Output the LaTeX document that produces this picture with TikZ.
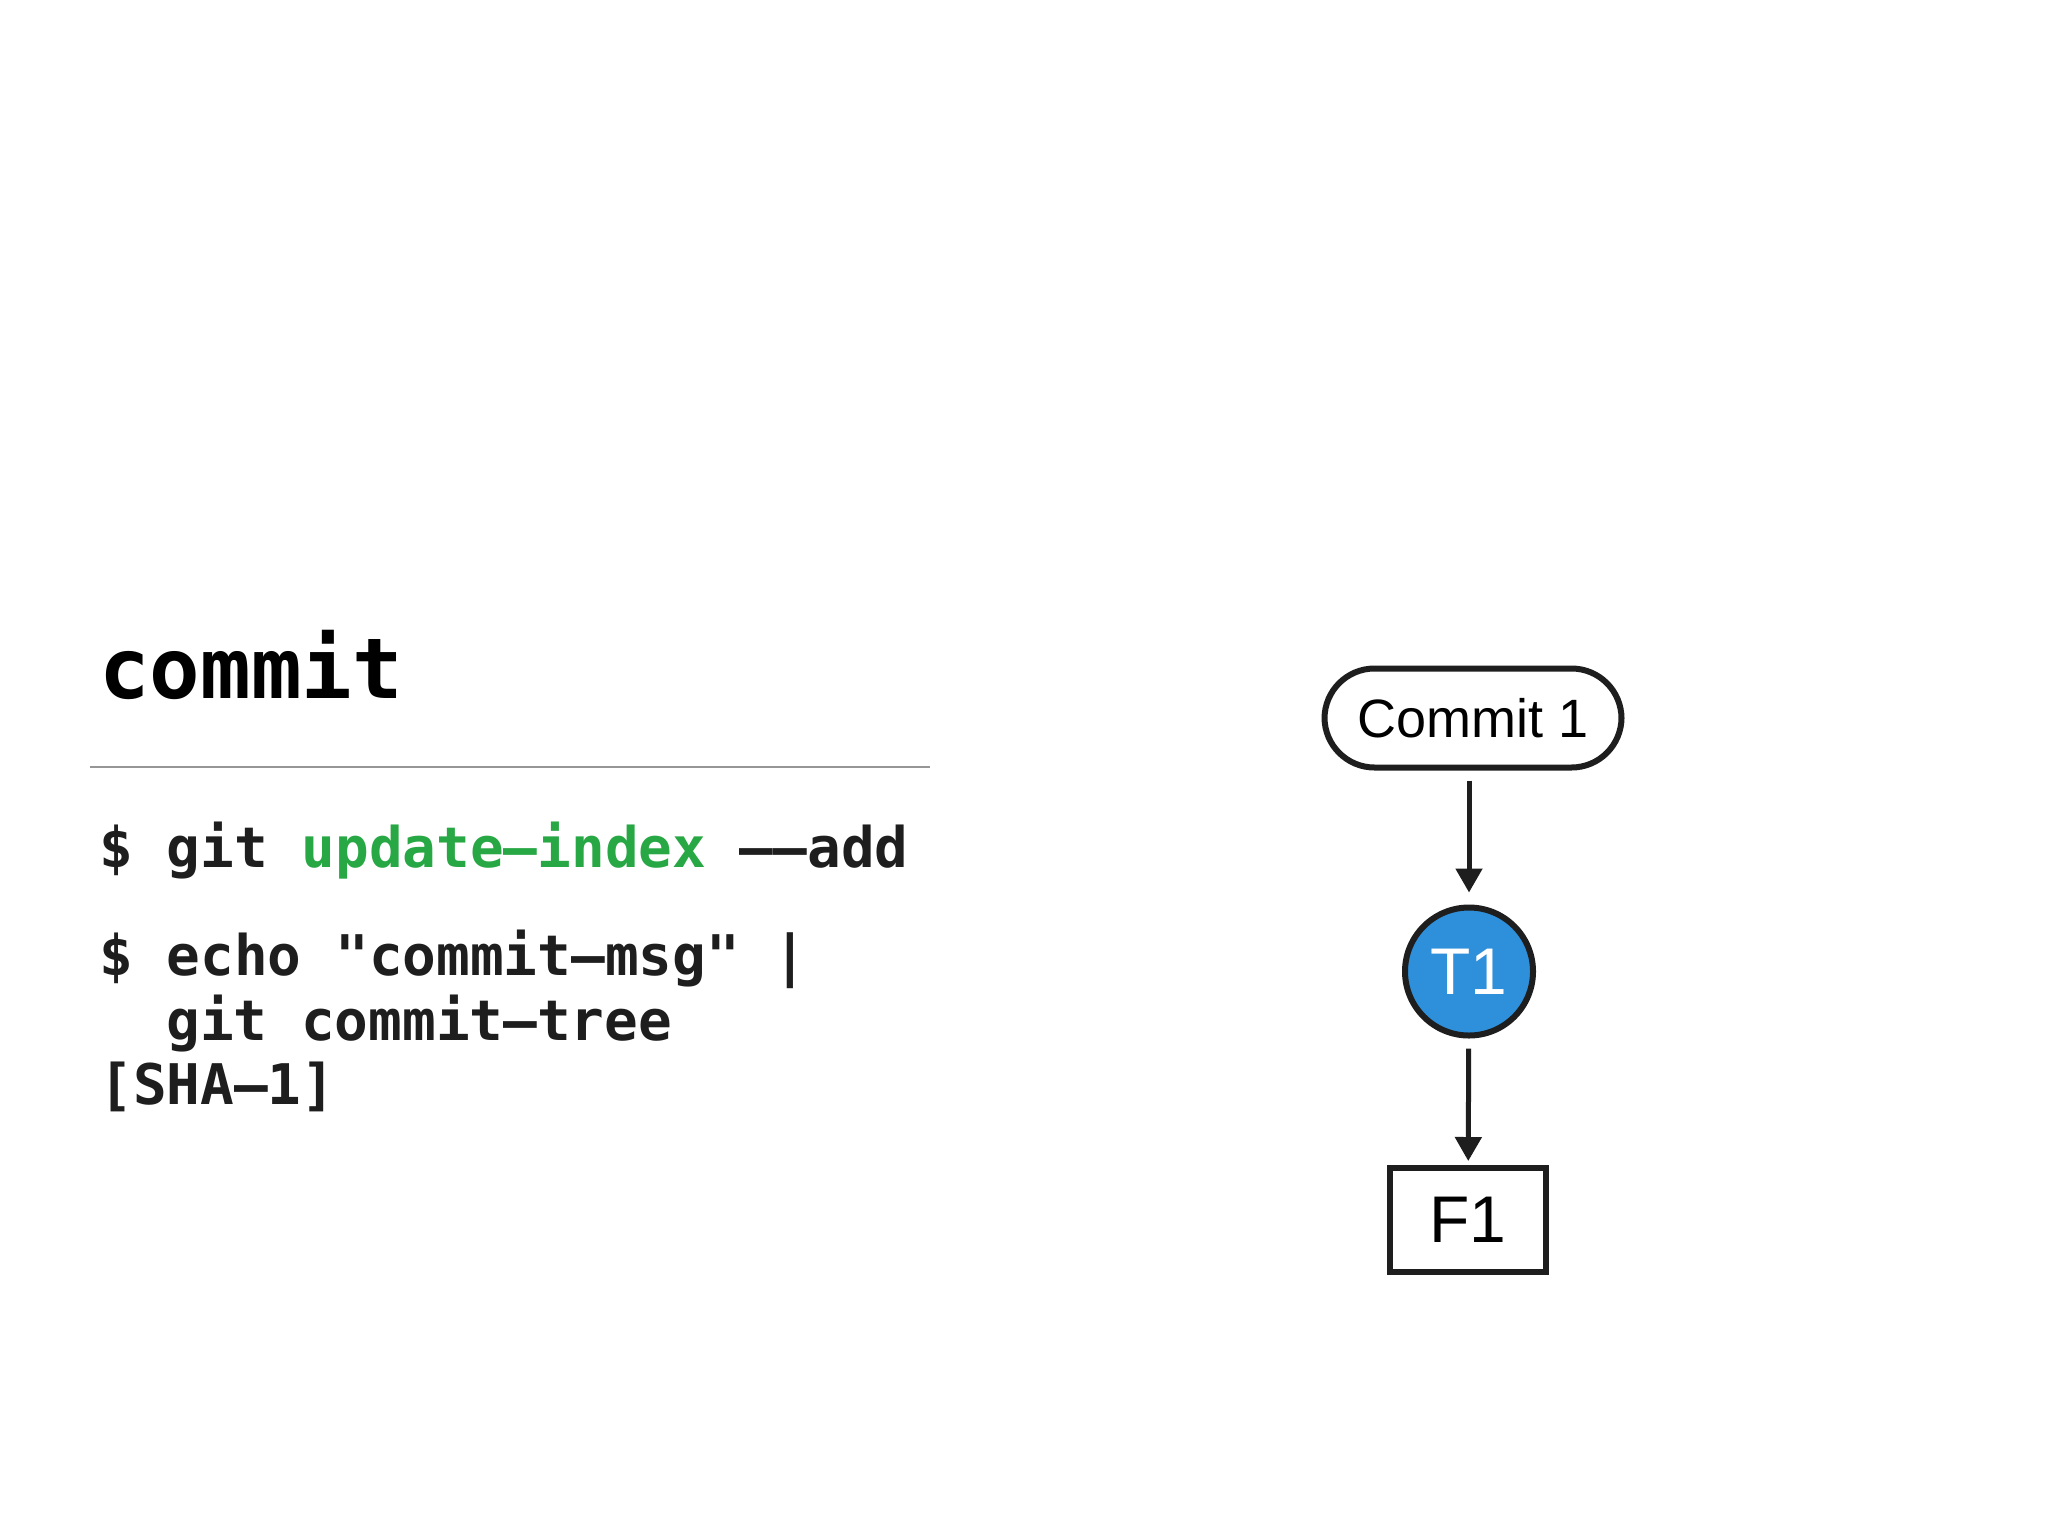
\documentclass[tikz,border=0pt]{standalone}
\usepackage{fontspec}
\setmainfont{Liberation Sans}
\newfontfamily\codefont{DejaVu Sans Mono}
\usetikzlibrary{arrows.meta}
\definecolor{codegreen}{RGB}{40,167,69}
\definecolor{codedark}{RGB}{30,30,30}
\definecolor{treeblue}{RGB}{46,144,218}
\definecolor{rulegray}{RGB}{150,150,150}
\newcommand{\cdash}{\char"2013\relax}
\tikzset{
  code/.style={anchor=base west, inner sep=0pt, text=codedark, font=\codefont\bfseries\fontsize{28}{30}\selectfont},
  title/.style={anchor=base west, inner sep=0pt, text=black, font=\codefont\bfseries\fontsize{42}{44}\selectfont},
  commitbox/.style={draw=codedark, line width=3pt, rounded corners=25pt, minimum width=148.5pt, minimum height=49.5pt, inner sep=0pt, font=\fontsize{27}{29}\selectfont},
  treecirc/.style={circle, draw=codedark, line width=3pt, fill=treeblue, text=white, minimum size=64pt, inner sep=0pt, font=\fontsize{33}{35}\selectfont},
  filebox/.style={draw=codedark, line width=3pt, minimum width=78pt, minimum height=52pt, inner sep=0pt, font=\fontsize{33}{35}\selectfont},
  arr/.style={draw=codedark, line width=2.5pt, -{Triangle[width=13pt,length=12pt]}, shorten <=5pt}
}
\begin{document}
\begin{tikzpicture}[x=0.5pt,y=-0.5pt]
\useasboundingbox[fill=white] (0,0) rectangle (2048,1536);
\node[title] (ttl) at (99,698) {commit};
\draw[rulegray, line width=1pt] (90,767) coordinate (r1) -- (930,767) coordinate (r2);
\node[code] (l1) at (99,867) {\$ git \textcolor{codegreen}{update\cdash index} \cdash\cdash add};
\node[code] (l2) at (99,975) {\$ echo \char"22\relax commit\cdash msg\char"22\relax\ |};
\node[code] (l3) at (166,1040) {git commit\cdash tree};
\node[code] (l4) at (99,1104) {[SHA\cdash 1]};

\node[commitbox] (c1) at (1473,718) {Commit 1};
\node[treecirc] (t1) at (1469,971.5) {T1};
\node[filebox] (f1) at (1468,1220) {F1};
\draw[arr, shorten >=6pt] (c1.south -| t1) -- (t1);
\draw[arr, shorten >=2pt] (t1) -- (f1);
\end{tikzpicture}
\end{document}
